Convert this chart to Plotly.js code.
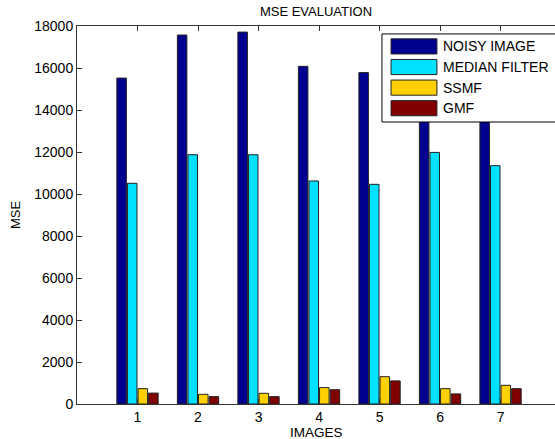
<!DOCTYPE html>
<html>
<head>
<meta charset="utf-8">
<script src="https://cdn.plot.ly/plotly-3.0.1.min.js"></script>
<style>html,body{margin:0;padding:0;background:#fff;}#chart{width:555px;height:439px;}</style>
</head>
<body>
<div id="chart"></div>
<script>
const images = [1, 2, 3, 4, 5, 6, 7];
const seriesNames = ["NOISY IMAGE", "MEDIAN FILTER", "SSMF", "GMF"];
const noisy  = [15520, 17570, 17710, 16080, 15780, 15600, 15200];
const median = [10510, 11870, 11870, 10620, 10460, 11980, 11350];
const ssmf   = [730, 460, 510, 780, 1300, 730, 890];
const gmf    = [520, 350, 350, 680, 1100, 480, 730];
const yTicks = [0, 2000, 4000, 6000, 8000, 10000, 12000, 14000, 16000, 18000];
const colors = ["#00008F", "#00E0FF", "#FFD000", "#800000"];
const seriesValues = [noisy, median, ssmf, gmf];

const font = "Liberation Sans, Arial, sans-serif";
const traces = seriesValues.map((vals, i) => ({
  type: "bar",
  x: images,
  y: vals,
  name: seriesNames[i],
  marker: {color: colors[i], line: {color: "#222", width: 1}},
  hoverinfo: "x+y+name"
}));

// custom MATLAB-style legend (drawn in paper coordinates)
const shapes = [];
const annotations = [];
const lx0 = 0.638, lx1 = 1.02, ly0 = 0.746, ly1 = 0.979;
shapes.push({type: "rect", xref: "paper", yref: "paper", x0: lx0, x1: lx1, y0: ly0, y1: ly1,
  fillcolor: "#fff", line: {color: "#000", width: 1}, layer: "above"});
const rowTop = 0.946, rowStep = 0.0545, swH = 0.04;
seriesNames.forEach((name, i) => {
  const cy = rowTop - i * rowStep;
  shapes.push({type: "rect", xref: "paper", yref: "paper", x0: 0.657, x1: 0.753,
    y0: cy - swH / 2, y1: cy + swH / 2, fillcolor: colors[i],
    line: {color: "#222", width: 1}, layer: "above"});
  annotations.push({xref: "paper", yref: "paper", x: 0.761, y: cy, xanchor: "left", yanchor: "middle",
    text: name, showarrow: false, font: {family: font, size: 14, color: "#000"}});
});
// x-axis title, placed like the MATLAB original (just below the tick labels)
annotations.push({xref: "paper", yref: "paper", x: 0.5, y: -0.05, xanchor: "center", yanchor: "top",
  text: "IMAGES", showarrow: false, font: {family: font, size: 13.5, color: "#000"}});

const layout = {
  width: 555, height: 439,
  margin: {l: 77, r: 0, t: 26, b: 35},
  paper_bgcolor: "#fff", plot_bgcolor: "#fff",
  showlegend: false,
  barmode: "group", bargap: 0.3, bargroupgap: 0.1,
  title: {text: "MSE EVALUATION", font: {family: font, size: 13, color: "#000"},
    x: 0.5, xref: "paper", y: 0.985, yref: "container", yanchor: "top"},
  xaxis: {
    range: [0, 7.9], tickvals: images, ticktext: images.map(String),
    ticks: "inside", ticklen: 5, tickcolor: "#333", showline: true, linecolor: "#333", linewidth: 1,
    mirror: "ticks", showgrid: false, zeroline: false,
    tickfont: {family: font, size: 14, color: "#000"}
  },
  yaxis: {
    range: [0, 18000], tickvals: yTicks, tickformat: "d",
    ticks: "inside", ticklen: 5, tickcolor: "#333", showline: true, linecolor: "#333", linewidth: 1,
    showgrid: false, zeroline: false,
    tickfont: {family: font, size: 14, color: "#000"},
    title: {text: "MSE", font: {family: font, size: 13, color: "#000"}, standoff: 10}
  },
  shapes: shapes,
  annotations: annotations
};

Plotly.newPlot("chart", traces, layout, {displayModeBar: false, staticPlot: true});
</script>
</body>
</html>
